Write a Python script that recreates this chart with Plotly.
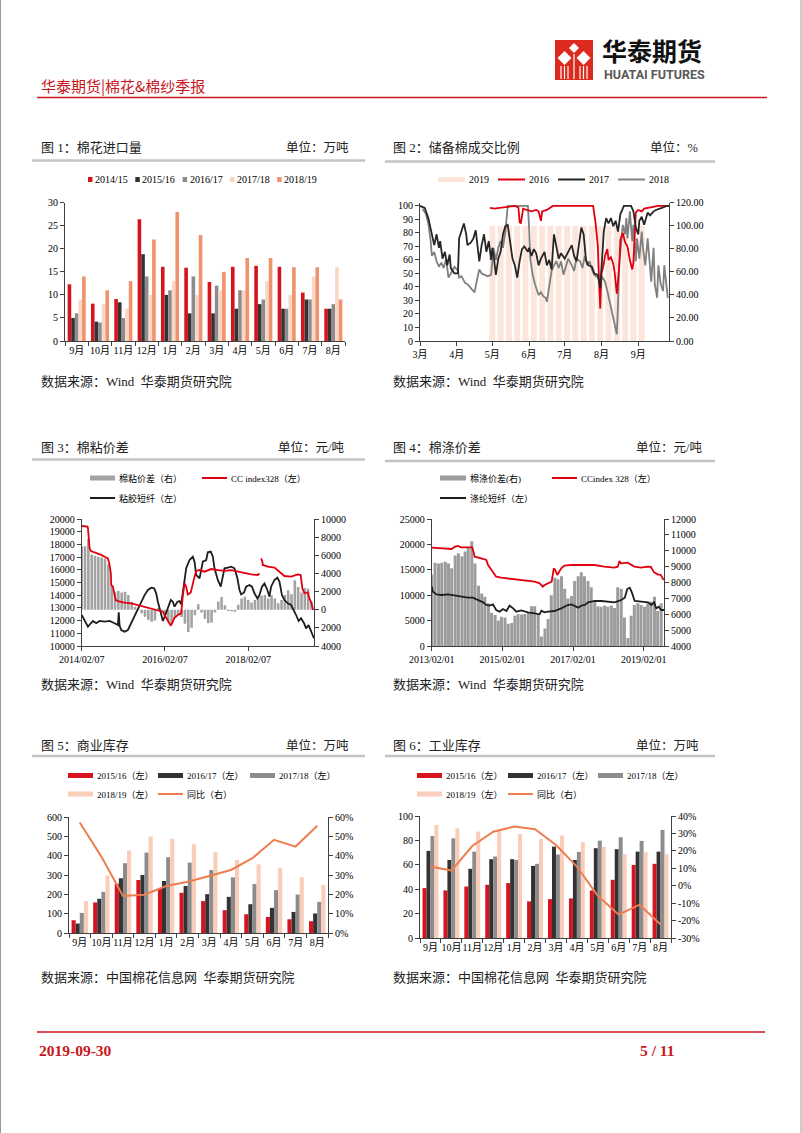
import plotly.graph_objects as go

W, H = 802, 1133
def X(px): return px / W
def Y(py): return 1 - py / H

SERIF = "Liberation Serif, Noto Sans CJK SC, serif"
CJK = "Noto Sans CJK SC, Liberation Serif, sans-serif"
AXC = "#404040"
RED = "#D7141E"
DARK = "#333333"
GRAY = "#8C8C8C"
PINK = "#F9CDB8"
ORANGE = "#F0936C"
LINE_OR = "#EE7D50"

# ---------------- Figure 1: cotton imports ----------------
months = ["9月", "10月", "11月", "12月", "1月", "2月", "3月", "4月", "5月", "6月", "7月", "8月"]
imp_names = ["2014/15", "2015/16", "2016/17", "2017/18", "2018/19"]
imp_1415 = [12.3, 8.1, 9.1, 26.4, 16.1, 15.9, 12.8, 16.1, 16.3, 16.1, 10.5, 7.0]
imp_1516 = [5.0, 4.2, 8.4, 18.8, 10.0, 6.0, 6.0, 7.0, 8.0, 7.0, 9.0, 7.0]
imp_1617 = [6.0, 4.0, 5.0, 14.0, 11.0, 14.0, 12.0, 11.0, 9.0, 7.0, 9.0, 8.0]
imp_1718 = [9.0, 8.0, 7.0, 10.0, 13.0, 10.0, 11.0, 11.0, 13.0, 10.0, 14.0, 16.0]
imp_1819 = [14.0, 11.0, 13.0, 22.0, 28.0, 23.0, 15.0, 18.0, 18.0, 16.0, 16.0, 9.0]

# ---------------- Figure 2: reserve auction deal ratio ----------------
month_starts = [0, 31, 61, 92, 122, 153, 184]          # days after 1 March
month_labels = ["3月", "4月", "5月", "6月", "7月", "8月", "9月"]
days_2016 = [59, 63, 67, 71, 76, 80, 83, 84, 85, 87, 90, 94, 98, 100, 102, 103, 107, 109, 112, 125,
             139, 146, 148, 150, 151, 152, 153, 155, 156, 158, 159, 161, 163, 164, 166, 168, 169, 171, 173, 175,
             177, 179, 180, 182, 184, 187, 189, 195, 201, 210]
rate_2016 = [98.5, 98, 98.5, 99, 100, 100, 99, 88, 87, 98, 97, 96, 97, 96, 89, 96, 97, 98, 100, 100,
             100, 100, 88, 70, 45, 24, 50, 57, 63, 68, 60, 62, 57, 52, 35, 55, 75, 80, 73, 70,
             60, 53, 58, 95, 97, 96, 98, 99, 100, 100]
days_2017 = [0, 4, 7, 10, 12, 14, 16, 17, 19, 21, 23, 25, 26, 29, 32, 33, 35, 37, 39, 40,
             43, 45, 47, 48, 50, 52, 54, 56, 58, 60, 61, 62, 64, 66, 68, 70, 72, 74, 76, 78,
             80, 82, 84, 86, 88, 91, 92, 94, 96, 98, 100, 102, 105, 107, 109, 111, 113, 115, 117, 119,
             122, 125, 128, 130, 132, 134, 136, 138, 140, 142, 145, 147, 150, 152, 153, 155, 157, 159, 161, 163,
             165, 167, 169, 172, 175, 178, 180, 182, 184, 185, 187, 189, 192, 194, 197, 199, 204, 208, 210]
rate_2017 = [100, 98.5, 91, 79, 71, 79, 69, 74, 61, 66, 56, 64, 54, 50, 50, 76, 82, 87, 79, 71,
             73, 76, 82, 74, 59, 71, 79, 66, 74, 60, 69, 64, 49, 61, 66, 79, 85, 86, 74, 61,
             56, 47, 59, 68, 70, 66, 69, 63, 68, 65, 56, 61, 66, 56, 60, 53, 79, 69, 61, 65,
             61, 66, 71, 63, 59, 71, 84, 79, 60, 56, 55, 50, 49, 39, 56, 81, 91, 87, 91, 85,
             89, 81, 94, 100, 100, 100, 96, 84, 79, 89, 92, 86, 95, 93, 96, 97, 98.5, 100, 100]
days_2018 = [2, 5, 7, 9, 10, 12, 14, 16, 18, 20, 22, 24, 26, 29, 32, 33, 35, 38, 40, 42,
             44, 46, 48, 50, 52, 55, 57, 60, 61, 62, 64, 66, 68, 70, 72, 73, 74, 77, 83, 88,
             91, 92, 93, 95, 97, 100, 102, 104, 106, 107, 109, 111, 113, 115, 117, 119, 121, 123, 125, 128,
             130, 132, 135, 137, 139, 141, 143, 145, 147, 150, 152, 154, 156, 158, 160, 162, 164, 166, 167, 168,
             170, 171, 173, 174, 175, 177, 179, 180, 182, 183, 185, 187, 188, 190, 192, 193, 195, 197, 198, 200,
             201, 203, 205, 206, 208, 209]
rate_2018 = [98, 94, 87, 74, 63, 66, 59, 55, 58, 54, 61, 47, 50, 55, 52, 47, 48, 43, 42, 40,
             38, 36, 45, 53, 50, 49, 48, 49, 63, 69, 60, 69, 74, 69, 81, 94, 100, 100, 100, 100,
             100, 84, 61, 49, 42, 34, 36, 33, 32, 29, 42, 52, 56, 59, 54, 59, 49, 56, 61, 56,
             52, 61, 59, 54, 63, 56, 59, 53, 49, 47, 44, 47, 44, 37, 29, 22, 12, 5, 27, 56,
             76, 86, 79, 91, 76, 96, 74, 86, 59, 76, 61, 81, 69, 56, 76, 64, 44, 69, 42, 32,
             56, 42, 37, 56, 42, 32]
week_days_2019 = [61, 68, 75, 82, 89, 96, 103, 110, 117, 124, 131, 138, 145, 152, 159, 166, 173, 180, 187]
week_rate_2019 = [100, 100, 100, 100, 100, 100, 100, 100, 100, 100, 100, 100, 100, 100, 100, 100, 100, 100, 100]

# ---------------- Figure 3: cotton - viscose spread (x in decimal years) ----------------
tick_t3 = [2014.10, 2016.10, 2018.10]
tick_l3 = ["2014/02/07", "2016/02/07", "2018/02/07"]
t3_cc = [2014.10, 2014.24, 2014.25, 2014.29, 2014.32, 2014.45, 2014.57, 2014.65, 2014.73, 2014.77,
         2014.80, 2014.81, 2014.85, 2014.89, 2014.92, 2014.97, 2015.09, 2015.29, 2015.49, 2015.69,
         2015.93, 2016.05, 2016.09, 2016.16, 2016.24, 2016.27, 2016.33, 2016.41, 2016.49, 2016.53,
         2016.57, 2016.61, 2016.65, 2016.72, 2016.77, 2016.81, 2016.85, 2016.93, 2017.05, 2017.21,
         2017.37, 2017.53, 2017.69, 2017.85, 2018.01, 2018.17, 2018.33, 2018.37, 2018.39, 2018.41,
         2018.44, 2018.45, 2018.57, 2018.73, 2018.85, 2018.97, 2019.13, 2019.29, 2019.36, 2019.40,
         2019.45, 2019.53, 2019.57, 2019.61, 2019.66]
cc3 = [19450, 19400, 19270, 17690, 17480, 17350, 17170, 17030, 16900, 16380,
       15720, 14800, 14670, 14010, 13620, 13540, 13440, 13360, 13180, 13020,
       12830, 12700, 12440, 12050, 11600, 11790, 12230, 12440, 12570, 14010,
       14930, 14670, 14060, 14220, 15070, 15460, 15910, 15980, 15850, 16060,
       15980, 15910, 15980, 15850, 15720, 15640, 15590, 15720, None, 16900,
       16640, 16380, 16250, 16170, 15850, 15510, 15460, 15640, 15590, 14540,
       14150, 14220, 13750, 13440, 12830]
t3_vsf = [2014.10, 2014.16, 2014.21, 2014.25, 2014.32, 2014.37, 2014.45, 2014.53, 2014.65, 2014.77,
          2014.89, 2014.97, 2014.99, 2015.01, 2015.05, 2015.13, 2015.21, 2015.29, 2015.37, 2015.45,
          2015.53, 2015.61, 2015.69, 2015.77, 2015.84, 2015.89, 2015.93, 2016.00, 2016.05, 2016.11,
          2016.17, 2016.24, 2016.29, 2016.33, 2016.40, 2016.45, 2016.49, 2016.56, 2016.61, 2016.69,
          2016.77, 2016.81, 2016.85, 2016.93, 2016.97, 2017.01, 2017.09, 2017.13, 2017.20, 2017.25,
          2017.29, 2017.37, 2017.44, 2017.48, 2017.53, 2017.61, 2017.69, 2017.77, 2017.84, 2017.89,
          2017.93, 2018.00, 2018.05, 2018.13, 2018.19, 2018.25, 2018.32, 2018.37, 2018.43, 2018.49,
          2018.56, 2018.61, 2018.65, 2018.73, 2018.80, 2018.85, 2018.91, 2018.97, 2019.05, 2019.13,
          2019.20, 2019.25, 2019.31, 2019.37, 2019.44, 2019.49, 2019.55, 2019.61, 2019.68]
vsf3 = [12440, 12050, 11650, 11520, 11790, 11970, 11790, 11970, 11920, 11970,
        11790, 11650, 12650, 11600, 11260, 11130, 11260, 11790, 12440, 12970,
        13490, 14010, 14410, 14590, 14540, 14150, 13490, 12700, 11970, 12440,
        12970, 13620, 13490, 13100, 13490, 13540, 13280, 15070, 16120, 16770,
        17030, 16640, 15590, 15330, 16120, 16640, 16770, 17380, 17430, 17030,
        16120, 15200, 14670, 15330, 16120, 16170, 16250, 16120, 15330, 14410,
        14060, 14220, 14670, 14800, 14670, 14150, 13750, 14010, 14670, 14930,
        14410, 13880, 14670, 15200, 15380, 15070, 14010, 13620, 13360, 13230,
        12830, 12440, 11970, 12180, 11790, 11390, 11650, 11130, 10600]
t3_bar = [2014.10, 2014.18, 2014.26, 2014.34, 2014.42, 2014.50, 2014.58, 2014.66, 2014.74, 2014.82,
          2014.90, 2014.98, 2015.06, 2015.14, 2015.22, 2015.30, 2015.38, 2015.46, 2015.54, 2015.62,
          2015.70, 2015.78, 2015.86, 2015.94, 2016.02, 2016.10, 2016.18, 2016.26, 2016.34, 2016.42,
          2016.50, 2016.58, 2016.66, 2016.74, 2016.82, 2016.90, 2016.98, 2017.06, 2017.14, 2017.22,
          2017.30, 2017.38, 2017.46, 2017.54, 2017.62, 2017.70, 2017.78, 2017.86, 2017.94, 2018.02,
          2018.10, 2018.18, 2018.26, 2018.34, 2018.42, 2018.50, 2018.58, 2018.66, 2018.74, 2018.82,
          2018.90, 2018.98, 2019.06, 2019.14, 2019.22, 2019.30, 2019.38, 2019.46, 2019.54, 2019.62]
spread3 = [6950, 7000, 7800, 6100, 5950, 5850, 5750, 5650, 5000, 2700,
           1990, 2060, 1910, 1990, 1620, 880, 330, -50, -400, -770,
           -1140, -1320, -1200, 200, -250, -900, -1330, -1500, -950, -600,
           -800, -1550, -2450, -2000, -600, 600, -300, -1000, -1500, -1400,
           -300, 900, 1400, 500, -150, -180, -220, 550, 1250, 1430,
           1070, 800, 1070, 1430, 1540, 1620, 1250, 1600, 1250, 700,
           1070, 1620, 2150, 1700, 3250, 2500, 1900, 2400, 2300, 900]

# ---------------- Figure 4: cotton - polyester spread ----------------
tick_t4 = [2013.085, 2015.085, 2017.085, 2019.085]
tick_l4 = ["2013/02/01", "2015/02/01", "2017/02/01", "2019/02/01"]
t4_cc = [2013.09, 2013.36, 2013.64, 2013.75, 2013.83, 2013.92, 2014.11, 2014.23, 2014.27, 2014.30,
         2014.49, 2014.63, 2014.68, 2014.77, 2014.86, 2014.91, 2015.05, 2015.24, 2015.43, 2015.62,
         2015.81, 2016.00, 2016.14, 2016.23, 2016.28, 2016.37, 2016.48, 2016.54, 2016.58, 2016.64,
         2016.70, 2016.75, 2016.84, 2017.03, 2017.31, 2017.69, 2017.97, 2018.25, 2018.35, 2018.40,
         2018.44, 2018.63, 2018.82, 2019.01, 2019.20, 2019.29, 2019.38, 2019.48, 2019.57, 2019.65]
cc4 = [19360, 19230, 19090, 19550, 19690, 19420, 19490, 19420, 18500, 17590,
       17260, 16930, 15940, 14960, 13980, 13650, 13450, 13320, 13190, 12990,
       12800, 12660, 12340, 11680, 12010, 12340, 12660, 15290, 14960, 13980,
       14630, 15290, 15810, 15940, 15940, 15940, 15620, 15420, 15620, 16730,
       16270, 16400, 15620, 15420, 15620, 15560, 14500, 14110, 13980, 12990]
t4_psf = [2013.09, 2013.12, 2013.22, 2013.36, 2013.55, 2013.74, 2013.92, 2014.11, 2014.25, 2014.40,
          2014.54, 2014.63, 2014.73, 2014.82, 2014.91, 2015.01, 2015.10, 2015.20, 2015.29, 2015.39,
          2015.48, 2015.62, 2015.81, 2016.00, 2016.14, 2016.19, 2016.28, 2016.38, 2016.56, 2016.75,
          2016.94, 2017.04, 2017.13, 2017.23, 2017.32, 2017.42, 2017.51, 2017.70, 2017.89, 2018.08,
          2018.26, 2018.45, 2018.55, 2018.62, 2018.69, 2018.75, 2018.83, 2019.02, 2019.21, 2019.30,
          2019.38, 2019.44, 2019.51, 2019.58, 2019.66]
psf4 = [11680, 10700, 10170, 10040, 10170, 9910, 9710, 9510, 9510, 9060,
        8600, 8070, 7940, 8200, 7090, 6760, 7280, 6890, 7940, 7410,
        6760, 7020, 6630, 6430, 6230, 6960, 6630, 6760, 6890, 7410,
        8070, 8200, 7940, 7550, 7940, 8070, 8600, 8860, 8860, 8730,
        8600, 9060, 9510, 11220, 11480, 10560, 8860, 8730, 8600, 8070,
        8600, 7410, 7740, 7090, 7090]
t4_bar = [2013.09, 2013.18, 2013.28, 2013.37, 2013.47, 2013.56, 2013.65, 2013.75, 2013.84, 2013.94,
          2014.03, 2014.12, 2014.22, 2014.31, 2014.41, 2014.50, 2014.59, 2014.69, 2014.78, 2014.88,
          2014.97, 2015.06, 2015.16, 2015.25, 2015.35, 2015.44, 2015.53, 2015.63, 2015.72, 2015.82,
          2015.91, 2016.00, 2016.10, 2016.19, 2016.29, 2016.38, 2016.47, 2016.57, 2016.66, 2016.76,
          2016.85, 2016.94, 2017.04, 2017.13, 2017.23, 2017.32, 2017.41, 2017.51, 2017.60, 2017.70,
          2017.79, 2017.88, 2017.98, 2018.07, 2018.17, 2018.26, 2018.35, 2018.45, 2018.54, 2018.64,
          2018.73, 2018.82, 2018.92, 2019.01, 2019.11, 2019.20, 2019.29, 2019.39, 2019.48, 2019.58]
spread4 = [8500, 9250, 9200, 9250, 9300, 9200, 8900, 9700, 9850, 9650,
           9950, 10150, 10600, 9200, 7800, 7300, 7100, 6700, 6100, 5950,
           5600, 5850, 5800, 5400, 5450, 5900, 6000, 5980, 6020, 6100,
           6500, 6500, 6000, 4600, 5100, 5700, 7200, 8300, 8200, 8400,
           7600, 7000, 7150, 8100, 8400, 8650, 8400, 8100, 7700, 6800,
           6500, 6470, 6550, 6470, 6550, 6400, 7700, 7600, 5800, 4500,
           5900, 6580, 6690, 6580, 6470, 6690, 6800, 7100, 6200, 6700]

# ---------------- Figure 5: commercial stocks ----------------
com_1516 = [66, 158, 255, 274, 231, 208, 165, 118, 97, 83, 71, 61]
com_1617 = [49, 177, 283, 300, 269, 243, 201, 187, 149, 130, 109, 101]
com_1718 = [104, 213, 361, 416, 392, 364, 326, 288, 253, 222, 199, 161]
com_1819 = [165, 297, 427, 499, 487, 459, 418, 378, 355, 338, 288, 248]
com_yoy = [0.572, 0.395, 0.192, 0.198, 0.243, 0.265, 0.295, 0.326, 0.387, 0.482, 0.447, 0.555]

# ---------------- Figure 6: industrial stocks ----------------
ind_1516 = [40.9, 39.0, 42.2, 43.6, 45.0, 30.0, 31.9, 32.4, 39.0, 47.7, 59.9, 60.8]
ind_1617 = [71.4, 64.0, 56.7, 64.6, 64.6, 59.1, 74.9, 64.0, 73.6, 72.8, 70.8, 70.8]
ind_1718 = [83.6, 81.7, 70.8, 66.8, 64.0, 60.8, 68.4, 70.6, 79.8, 82.6, 79.6, 88.6]
ind_1819 = [92.6, 89.9, 87.2, 88.6, 85.3, 81.2, 83.9, 78.5, 74.9, 68.7, 70.3, 68.7]
ind_yoy = [0.110, 0.087, 0.228, 0.310, 0.339, 0.324, 0.234, 0.110, -0.058, -0.166, -0.109, -0.223]

stock_names = ["2015/16（左）", "2016/17（左）", "2017/18（左）", "2018/19（左）"]

BAR2019 = "#FCE6DB"

fig = go.Figure()

# chart 1 bars
for i, (nm, vals, col) in enumerate(zip(imp_names, [imp_1415, imp_1516, imp_1617, imp_1718, imp_1819],
                                          [RED, DARK, GRAY, "#FAD6C4", ORANGE])):
    fig.add_trace(go.Bar(name=nm, x=months, y=vals, xaxis="x", yaxis="y", width=0.155,
                         offset=-0.3875 + 0.155 * i, marker=dict(color=col, line=dict(width=0)),
                         showlegend=False))

# chart 2
fig.add_trace(go.Bar(name="2019", x=week_days_2019, y=week_rate_2019, xaxis="x2", yaxis="y2", width=5,
                     marker=dict(color=BAR2019, line=dict(width=0)), showlegend=False))
for nm, dd, vv, col in [("2018", days_2018, rate_2018, "#808080"),
                        ("2016", days_2016, rate_2016, "#E00010"),
                        ("2017", days_2017, rate_2017, "#262626")]:
    fig.add_trace(go.Scatter(name=nm, x=dd, y=vv, xaxis="x2", yaxis="y3", mode="lines",
                             line=dict(color=col, width=1.8), showlegend=False))

# chart 3
fig.add_trace(go.Bar(name="棉粘价差（右）", x=t3_bar, y=spread3, xaxis="x3", yaxis="y4", width=0.062,
                     marker=dict(color="#A3A3A3", line=dict(width=0)), showlegend=False))
fig.add_trace(go.Scatter(name="粘胶短纤（左）", x=t3_vsf, y=vsf3, xaxis="x3", yaxis="y5", mode="lines",
                         line=dict(color="#1E1E1E", width=1.8), showlegend=False))
fig.add_trace(go.Scatter(name="CC index328（左）", x=t3_cc, y=cc3, xaxis="x3", yaxis="y5", mode="lines",
                         line=dict(color="#E00010", width=1.8), connectgaps=False, showlegend=False))

# chart 4
fig.add_trace(go.Bar(name="棉涤价差(右)", x=t4_bar, y=spread4, xaxis="x4", yaxis="y6", width=0.085,
                     marker=dict(color="#9C9C9C", line=dict(width=0)), showlegend=False))
fig.add_trace(go.Scatter(name="涤纶短纤（左）", x=t4_psf, y=psf4, xaxis="x4", yaxis="y7", mode="lines",
                         line=dict(color="#1E1E1E", width=1.8), showlegend=False))
fig.add_trace(go.Scatter(name="CCindex 328（左）", x=t4_cc, y=cc4, xaxis="x4", yaxis="y7", mode="lines",
                         line=dict(color="#E00010", width=1.8), showlegend=False))

# chart 5 & 6
stock_cols = [RED, DARK, GRAY, PINK]
for i, vals in enumerate([com_1516, com_1617, com_1718, com_1819]):
    fig.add_trace(go.Bar(name=stock_names[i], x=months, y=vals, xaxis="x5", yaxis="y8", width=0.19,
                         offset=-0.38 + 0.19 * i, marker=dict(color=stock_cols[i], line=dict(width=0)),
                         showlegend=False))
fig.add_trace(go.Scatter(name="同比（右）", x=months, y=com_yoy, xaxis="x5", yaxis="y9", mode="lines",
                         line=dict(color=LINE_OR, width=2), showlegend=False))
for i, vals in enumerate([ind_1516, ind_1617, ind_1718, ind_1819]):
    fig.add_trace(go.Bar(name=stock_names[i], x=months, y=vals, xaxis="x6", yaxis="y10", width=0.19,
                         offset=-0.38 + 0.19 * i, marker=dict(color=stock_cols[i], line=dict(width=0)),
                         showlegend=False))
fig.add_trace(go.Scatter(name="同比（右）", x=months, y=ind_yoy, xaxis="x6", yaxis="y11", mode="lines",
                         line=dict(color=LINE_OR, width=2), showlegend=False))

# ---------------- axes ----------------
def ax(**kw):
    d = dict(showgrid=False, zeroline=False, showline=True, linecolor=AXC, linewidth=1,
             ticks="outside", ticklen=4, tickcolor=AXC, tickwidth=1, exponentformat="none",
             tickformat="d", automargin=False, tickangle=0,
             tickfont=dict(family=SERIF, size=10, color="#000"), fixedrange=True)
    d.update(kw)
    return d

def pct_labels(vals):
    return ["%d%%" % round(v * 100) for v in vals]

r2 = [0, 20, 40, 60, 80, 100, 120]
r3 = [-4000, -2000, 0, 2000, 4000, 6000, 8000, 10000]
r9 = [0, 0.1, 0.2, 0.3, 0.4, 0.5, 0.6]
r11 = [-0.3, -0.2, -0.1, 0, 0.1, 0.2, 0.3, 0.4]

layout_axes = dict(
    xaxis=ax(domain=[X(65), X(345)], anchor="y", type="category", tickson="boundaries", range=[-0.5, 11.5]),
    yaxis=ax(domain=[Y(341), Y(202.7)], anchor="x", range=[0, 30], dtick=5, tick0=0),

    xaxis2=ax(domain=[X(420), X(669)], anchor="y2", range=[0, 210], tickvals=month_starts, ticktext=month_labels),
    yaxis2=ax(domain=[Y(341), Y(202.7)], anchor="x2", side="right", range=[0, 120],
              tickvals=r2, ticktext=["%.2f" % v for v in r2]),
    yaxis3=ax(overlaying="y2", anchor="x2", side="left", range=[0, 102.4], dtick=10, tick0=0),

    xaxis3=ax(domain=[X(81.7), X(314)], anchor="y4", range=[2014.10, 2019.68], tickvals=tick_t3, ticktext=tick_l3),
    yaxis4=ax(domain=[Y(646), Y(519)], anchor="x3", side="right", range=[-4000, 10000],
              tickvals=r3, ticktext=[str(abs(v)) for v in r3]),
    yaxis5=ax(overlaying="y4", anchor="x3", side="left", range=[10000, 20000], dtick=1000, tick0=10000),

    xaxis4=ax(domain=[X(431.7), X(664)], anchor="y6", range=[2013.085, 2019.66], tickvals=tick_t4, ticktext=tick_l4),
    yaxis6=ax(domain=[Y(646), Y(519)], anchor="x4", side="right", range=[4000, 12000], dtick=1000, tick0=4000),
    yaxis7=ax(overlaying="y6", anchor="x4", side="left", range=[0, 25000], dtick=5000, tick0=0),

    xaxis5=ax(domain=[X(69), X(328)], anchor="y8", type="category", tickson="boundaries", range=[-0.5, 11.5]),
    yaxis8=ax(domain=[Y(933), Y(817)], anchor="x5", range=[0, 600], dtick=100, tick0=0),
    yaxis9=ax(overlaying="y8", anchor="x5", side="right", range=[0, 0.6], tickvals=r9, ticktext=pct_labels(r9)),

    xaxis6=ax(domain=[X(420), X(671)], anchor="y10", type="category", tickson="boundaries", range=[-0.5, 11.5]),
    yaxis10=ax(domain=[Y(938), Y(816)], anchor="x6", range=[0, 100], dtick=20, tick0=0),
    yaxis11=ax(overlaying="y10", anchor="x6", side="right", range=[-0.3, 0.4], tickvals=r11, ticktext=pct_labels(r11)),
)

# ---------------- page decoration, titles, legends ----------------
shapes = []
annos = []

def txt(x, y, s, size=10, color="#000", anchor="left", family=SERIF):
    annos.append(dict(xref="paper", yref="paper", x=X(x), y=Y(y), text=s, showarrow=False,
                      xanchor=anchor, yanchor="middle", font=dict(family=family, size=size, color=color),
                      borderpad=0))

def rect(x0, y0, x1, y1, color):
    shapes.append(dict(type="rect", xref="paper", yref="paper", x0=X(x0), x1=X(x1), y0=Y(y1), y1=Y(y0),
                       fillcolor=color, line=dict(width=0), layer="above"))

def hline(x0, x1, y, color, width):
    shapes.append(dict(type="line", xref="paper", yref="paper", x0=X(x0), x1=X(x1), y0=Y(y), y1=Y(y),
                       line=dict(color=color, width=width)))

def vline(x, y0, y1, color, width):
    shapes.append(dict(type="line", xref="paper", yref="paper", x0=X(x), x1=X(x), y0=Y(y0), y1=Y(y1),
                       line=dict(color=color, width=width)))

def diamond(cx, cy, r, color):
    p = "M %f,%f L %f,%f L %f,%f L %f,%f Z" % (X(cx), Y(cy - r), X(cx + r), Y(cy), X(cx), Y(cy + r), X(cx - r), Y(cy))
    shapes.append(dict(type="path", xref="paper", yref="paper", path=p, fillcolor=color, line=dict(width=0)))

def legend_item(x0, y, kind, color, label, size=9, sw=26):
    if kind == "sq":
        rect(x0, y - 2.5, x0 + 4.5, y + 2.5, color)
        tx = x0 + 6
    elif kind == "bar":
        rect(x0, y - 2.5, x0 + sw, y + 2.5, color)
        tx = x0 + sw + 3
    else:
        hline(x0, x0 + sw, y, color, 2)
        tx = x0 + sw + 3
    txt(tx, y, label, size=size)

# page border
vline(0.5, 0, 1133, "#9A9A9A", 1)
vline(801, 0, 1133, "#9A9A9A", 1)

# header
txt(40, 85, "华泰期货|棉花&棉纱季报", size=15, color="#C8161D", family=CJK)
hline(37, 767, 97.5, "#C8161D", 1.6)
rect(555, 40, 593, 80, "#DC2A1F")
diamond(574, 48, 5, "white")
diamond(564.5, 58, 7, "white")
diamond(583.5, 58, 7, "white")
for vx in [561, 564.5, 568, 580, 583.5, 587]:
    vline(vx, 66, 79, "white", 1.2)
vline(574, 54, 79, "white", 1.2)
txt(601, 50, "<b>华泰期货</b>", size=25, color="#111111", family=CJK)
txt(603, 75, "<b>HUATAI FUTURES</b>", size=12.5, color="#595959", family="Roboto, Arial, sans-serif")

# footer
hline(37, 765, 1032, "#C8161D", 1.6)
txt(38, 1050, "<b>2019-09-30</b>", size=15.5, color="#C8161D", family=SERIF)
txt(639, 1050, "<b>5 / 11</b>", size=15.5, color="#C8161D", family=SERIF)

# chart titles, units, sources, separators
TITLE_C = "#222222"
for (lx, rx, ty, ly, sy, title, unit, src, l0, l1) in [
    (40, 350, 147, 160.5, 381, "图 1：棉花进口量", "单位：万吨", "数据来源：Wind  华泰期货研究院", 32, 365),
    (392, 699, 147, 161.5, 381, "图 2：储备棉成交比例", "单位：%", "数据来源：Wind  华泰期货研究院", 385, 715),
    (40, 345, 447, 459.5, 684, "图 3：棉粘价差", "单位：元/吨", "数据来源：Wind  华泰期货研究院", 32, 365),
    (392, 703, 447, 461, 684, "图 4：棉涤价差", "单位：元/吨", "数据来源：Wind  华泰期货研究院", 385, 715),
    (40, 350, 745, 756, 977, "图 5：商业库存", "单位：万吨", "数据来源：中国棉花信息网  华泰期货研究院", 32, 365),
    (392, 700, 745, 756, 977, "图 6：工业库存", "单位：万吨", "数据来源：中国棉花信息网  华泰期货研究院", 385, 715),
]:
    txt(lx, ty, title, size=13, color=TITLE_C)
    txt(rx, ty, unit, size=12.5, color=TITLE_C, anchor="right")
    hline(l0, l1, ly, "#C4C4C4", 2.5)
    txt(lx, sy, src, size=13, color=TITLE_C)

# legends
for i, (nm, col) in enumerate(zip(imp_names, [RED, DARK, GRAY, "#FAD6C4", ORANGE])):
    legend_item(88 + 47.3 * i, 179.5, "sq", col, nm, size=10)

legend_item(438, 179.5, "bar", BAR2019, "2019", size=10, sw=27)
legend_item(498, 179.5, "line", "#E00010", "2016", size=10, sw=27)
legend_item(558, 179.5, "line", "#262626", "2017", size=10, sw=27)
legend_item(618, 179.5, "line", "#808080", "2018", size=10, sw=27)

legend_item(90, 478, "bar", "#A3A3A3", "棉粘价差（右）", sw=25)
legend_item(202, 478, "line", "#E00010", "CC index328（左）", sw=25)
legend_item(90, 498, "line", "#1E1E1E", "粘胶短纤（左）", sw=25)

legend_item(440, 478, "bar", "#9C9C9C", "棉涤价差(右)", sw=26)
legend_item(552, 478, "line", "#E00010", "CCindex 328（左）", sw=25)
legend_item(440, 498, "line", "#1E1E1E", "涤纶短纤（左）", sw=26)

for (x0, y, kind, col, lab) in [(68, 775.5, "bar", RED, stock_names[0]), (158, 775.5, "bar", DARK, stock_names[1]),
                                (250, 775.5, "bar", GRAY, stock_names[2]), (68, 794, "bar", PINK, stock_names[3]),
                                (158, 794, "line", LINE_OR, "同比（右）")]:
    legend_item(x0, y, kind, col, lab, sw=25)
for (x0, y, kind, col, lab) in [(417, 775.5, "bar", RED, stock_names[0]), (508, 775.5, "bar", DARK, stock_names[1]),
                                (598, 775.5, "bar", GRAY, stock_names[2]), (417, 794, "bar", PINK, stock_names[3]),
                                (508, 794, "line", LINE_OR, "同比（右）")]:
    legend_item(x0, y, kind, col, lab, sw=25)

fig.update_layout(
    width=W, height=H, margin=dict(l=0, r=0, t=0, b=0, pad=0, autoexpand=False),
    paper_bgcolor="white", plot_bgcolor="rgba(0,0,0,0)", showlegend=False,
    shapes=shapes, annotations=annos, hovermode=False,
    font=dict(family=SERIF, size=10, color="#000"),
    **layout_axes,
)

fig.write_html("out.html", config={"displayModeBar": False, "staticPlot": True},
               post_script="document.body.style.margin='0';document.body.style.overflow='hidden';")
